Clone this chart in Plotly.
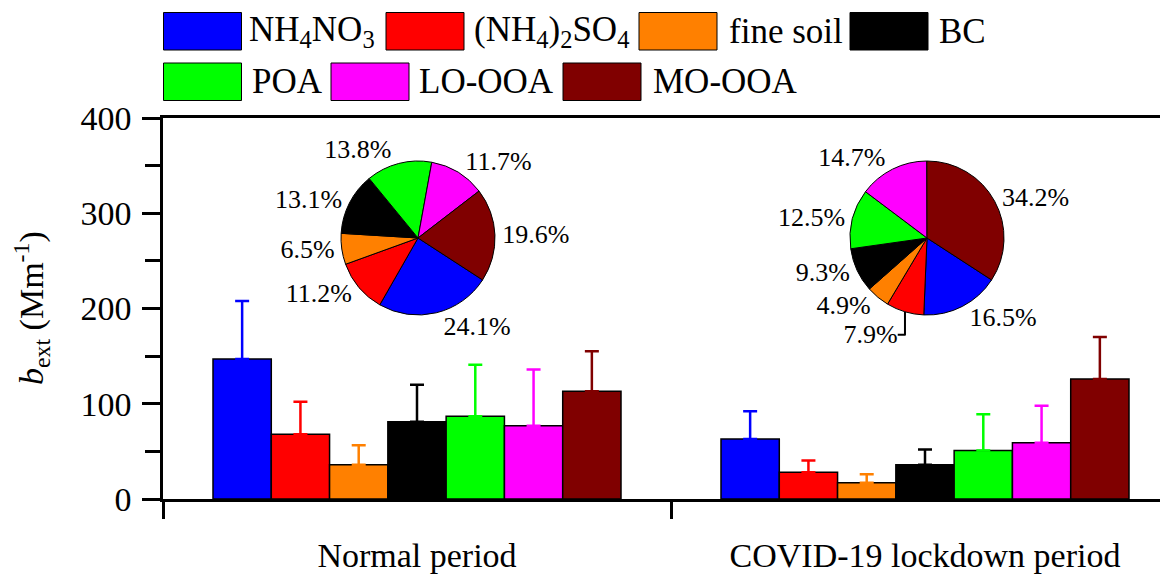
import plotly.graph_objects as go

# ---------------- data ----------------
periods = ["Normal period", "COVID-19 lockdown period"]
species = ["NH4NO3", "(NH4)2SO4", "fine soil", "BC", "POA", "LO-OOA", "MO-OOA"]
species_labels = ["NH<sub>4</sub>NO<sub>3</sub>", "(NH<sub>4</sub>)<sub>2</sub>SO<sub>4</sub>",
                  "fine soil", "BC", "POA", "LO-OOA", "MO-OOA"]
colors = ["#0000FF", "#FF0000", "#FF8000", "#000000", "#00FF00", "#FF00FF", "#800000"]

bext_normal = [147, 68, 36, 81, 87, 77, 113]
sd_normal = [61, 34, 20.5, 39, 54, 59, 42]
bext_covid = [63, 28, 17, 36, 51, 59, 126]
sd_covid = [29, 12.5, 9, 16, 38, 39, 44]

pct_normal = [24.1, 11.2, 6.5, 13.1, 13.8, 11.7, 19.6]
pct_covid = [16.5, 7.9, 4.9, 9.3, 12.5, 14.7, 34.2]

yticks = [0, 100, 200, 300, 400]

# ---------------- layout geometry ----------------
OFF = 8                      # page body margin of the browser
W, H = 1168 - OFF, 577 - OFF
L, R, T = 163 - OFF, 0, 118 - OFF
B = H - (499 - OFF)
PW, PH = W - L - R, H - T - B
CAT_PX = 508.0
FONT = "Liberation Serif, Times New Roman, serif"


def px2x(px):
    return (px - OFF - L) / PW


def py2y(py):
    return (H - B - (py - OFF)) / PH


fig = go.Figure()

xpos = [i + 0.5 for i in range(len(periods))]
for i, name in enumerate(species):
    fig.add_trace(go.Bar(
        x=xpos, y=[bext_normal[i], bext_covid[i]], name=name,
        marker=dict(color=colors[i], line=dict(color="black", width=1.5)),
        error_y=dict(type="data", symmetric=False, array=[sd_normal[i], sd_covid[i]],
                     arrayminus=[0, 0], color=colors[i], thickness=2.5, width=7),
        showlegend=False, hoverinfo="skip",
    ))

# pies
for pct, cx in ((pct_normal, 418), (pct_covid, 927)):
    r = 77
    fig.add_trace(go.Pie(
        values=pct, labels=species, sort=False, direction="clockwise", rotation=123,
        marker=dict(colors=colors, line=dict(color="black", width=1)),
        textposition="outside", texttemplate="%{value:.1f}%",
        textfont=dict(family=FONT, size=26, color="black"),
        domain=dict(x=[px2x(cx - r), px2x(cx + r)], y=[py2y(238 + r), py2y(238 - r)]),
        showlegend=False, hoverinfo="skip",
    ))

# manual legend (large swatches)
legend_rows = [
    (12.5, 50.0, [(163.5, 247), (386, 472), (639, 727), (850, 937)], [0, 1, 2, 3]),
    (63.0, 100.5, [(163.5, 250), (331, 417), (563, 651)], [4, 5, 6]),
]
shapes = []
annotations = []
for y0, y1, items, idxs in legend_rows:
    for (sx, tx), k in zip(items, idxs):
        shapes.append(dict(type="rect", xref="paper", yref="paper",
                           x0=px2x(sx), x1=px2x(sx + 78), y0=py2y(y1), y1=py2y(y0),
                           fillcolor=colors[k], line=dict(color="black", width=1)))
        annotations.append(dict(text=species_labels[k], xref="paper", yref="paper",
                                x=px2x(tx), y=py2y((y0 + y1) / 2), xanchor="left",
                                yanchor="middle", showarrow=False,
                                font=dict(family=FONT, size=35, color="black")))

annotations.append(dict(text="<i>b</i><sub>ext</sub> (Mm<sup>-1</sup>)", textangle=-90,
                        xref="paper", yref="paper", x=px2x(31), y=py2y(308),
                        xanchor="center", yanchor="middle", showarrow=False,
                        font=dict(family=FONT, size=34, color="black")))

fig.update_layout(
    width=W, height=H,
    margin=dict(l=L, r=R, t=T, b=B, autoexpand=False),
    paper_bgcolor="white", plot_bgcolor="white",
    barmode="group", bargap=1 - 408.0 / CAT_PX, bargroupgap=0,
    font=dict(family=FONT, color="black"),
    shapes=shapes, annotations=annotations,
    xaxis=dict(range=[0, PW / CAT_PX], showline=True, linecolor="black", linewidth=2.5,
               mirror=True, showgrid=False, zeroline=False,
               tickmode="array", tickvals=xpos, ticktext=periods, ticks="",
               ticklabelstandoff=24, tickfont=dict(family=FONT, size=34, color="black"),
               minor=dict(ticks="outside", ticklen=17, tickwidth=2.5, tickcolor="black",
                          tick0=0, dtick=1, showgrid=False)),
    yaxis=dict(range=[0, 400], showline=True, linecolor="black", linewidth=2.5,
               showgrid=False, zeroline=False, tickmode="array", tickvals=yticks,
               ticks="outside", ticklen=18, tickwidth=2.5, tickcolor="black",
               ticklabelstandoff=4, tickfont=dict(family=FONT, size=34, color="black"),
               minor=dict(ticks="outside", ticklen=15, tickwidth=2.5, tickcolor="black",
                          tick0=0, dtick=50, showgrid=False)),
)

fig.write_html("out.html")
